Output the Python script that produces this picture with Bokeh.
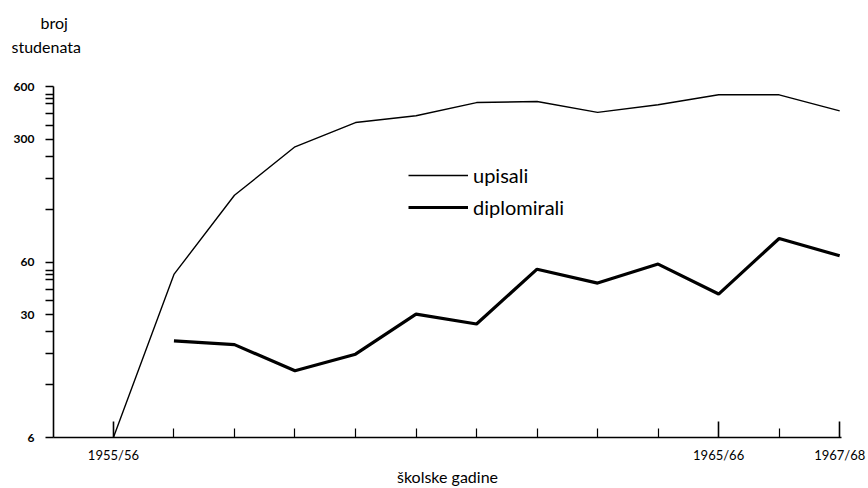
from bokeh.plotting import figure
from bokeh.models import Range1d, FixedTicker, NumeralTickFormatter, Legend, LegendItem, Title
from bokeh.embed import file_html
from bokeh.resources import INLINE

# ---- data ----
school_years = ["1955/56", "1956/57", "1957/58", "1958/59", "1959/60", "1960/61",
                "1961/62", "1962/63", "1963/64", "1964/65", "1965/66", "1966/67", "1967/68"]
labeled_years = ["1955/56", "1965/66", "1967/68"]

upisali = [6, 51, 144, 272, 374, 409, 486, 493, 427, 472, 538, 538, 436]
diplomirali_years = school_years[1:]
diplomirali = [21.3, 20.3, 14.4, 17.9, 30.3, 26.6, 54.6, 45.5, 58.4, 39.4, 81.7, 65.1]

y_major = [6, 30, 60, 300, 600]
y_minor = [12, 18, 24, 36, 42, 48, 51, 54, 120, 180, 240, 360, 420, 480, 510, 540]

FONT = "Lato"

x_up = [school_years.index(y) for y in school_years]
x_dip = [school_years.index(y) for y in diplomirali_years]

W, H = 868, 488
p = figure(width=W, height=H, y_axis_type="log",
           x_range=Range1d(-0.99, 12.03), y_range=Range1d(6, 600),
           output_backend="svg", toolbar_location=None,
           min_border_left=53, min_border_right=W - 841,
           min_border_top=86, min_border_bottom=H - 437)
p.background_fill_color = "white"
p.border_fill_color = "white"
p.outline_line_color = None
p.xgrid.visible = False
p.ygrid.visible = False

r_up = p.line(x_up, upisali, line_color="black", line_width=1.4)
r_dip = p.line(x_dip, diplomirali, line_color="black", line_width=3.2)

# y axis
ya = p.yaxis[0]
ya.ticker = FixedTicker(ticks=y_major, minor_ticks=y_minor)
ya.formatter = NumeralTickFormatter(format="0")
ya.axis_line_color = "black"
ya.axis_line_width = 1.6
ya.major_tick_out = 8
ya.major_tick_in = 0
ya.minor_tick_out = 8
ya.minor_tick_in = 0
ya.major_tick_line_width = 1.3
ya.minor_tick_line_width = 1.3
ya.major_tick_line_color = "black"
ya.minor_tick_line_color = "black"
ya.major_label_standoff = 11
ya.major_label_text_font = FONT
ya.major_label_text_font_style = "bold"
ya.major_label_text_font_size = "12px"
ya.major_label_text_color = "black"

# x axis
xa = p.xaxis[0]
major_idx = [school_years.index(y) for y in labeled_years]
minor_idx = [i for i in range(len(school_years)) if i not in major_idx]
xa.ticker = FixedTicker(ticks=major_idx, minor_ticks=minor_idx)
xa.major_label_overrides = {i: school_years[i] for i in major_idx}
xa.axis_line_color = "black"
xa.axis_line_width = 1.6
xa.major_tick_in = 16
xa.major_tick_out = 0
xa.minor_tick_in = 9
xa.minor_tick_out = 0
xa.major_tick_line_width = 1.6
xa.minor_tick_line_width = 1.2
xa.major_tick_line_color = "black"
xa.minor_tick_line_color = "black"
xa.major_label_standoff = 9
xa.major_label_text_font = FONT
xa.major_label_text_font_size = "13px"
xa.major_label_text_color = "black"
xa.axis_label = "školske gadine"
xa.axis_label_standoff = 1
xa.axis_label_text_font = FONT
xa.axis_label_text_font_style = "normal"
xa.axis_label_text_font_size = "16px"
xa.axis_label_text_color = "black"

# y-axis caption above the plot (first added sits closest to the frame)
p.add_layout(Title(text=" ", align="left", standoff=10,
                   text_font=FONT, text_font_size="16px"), "above")
p.add_layout(Title(text="studenata", align="left", offset=-42, standoff=0,
                   text_font=FONT, text_font_size="16px", text_font_style="normal",
                   text_color="black"), "above")
p.add_layout(Title(text="broj", align="left", offset=-13, standoff=6,
                   text_font=FONT, text_font_size="16px", text_font_style="normal",
                   text_color="black"), "above")

legend = Legend(items=[LegendItem(label="upisali", renderers=[r_up]),
                       LegendItem(label="diplomirali", renderers=[r_dip])],
                location=(355, 218), glyph_width=60, glyph_height=20,
                label_standoff=5, spacing=8, padding=10,
                label_text_font=FONT, label_text_font_size="20px",
                label_text_color="black",
                border_line_color=None, background_fill_alpha=0)
p.add_layout(legend)

open("out.html", "w").write(file_html(p, INLINE))
